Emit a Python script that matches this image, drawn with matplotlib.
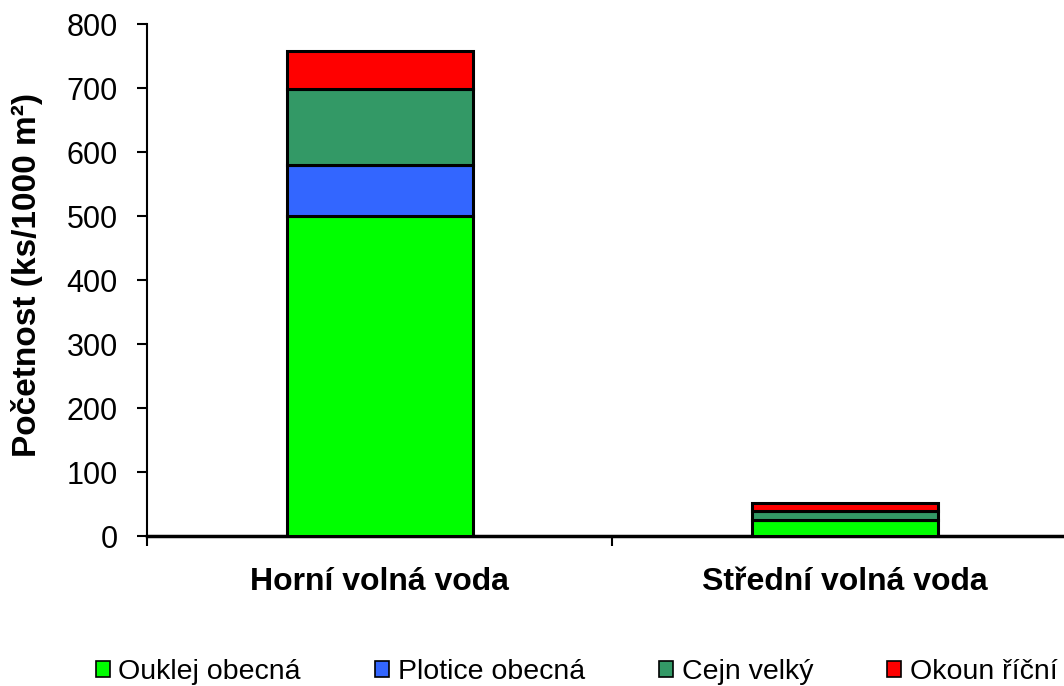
import matplotlib
matplotlib.use("Agg")
import matplotlib.pyplot as plt
from matplotlib.patches import Patch
import numpy as np

plt.rcParams['font.family'] = ['Liberation Sans', 'DejaVu Sans']

categories = ["Horní volná voda", "Střední volná voda"]
series_names = ["Ouklej obecná", "Plotice obecná", "Cejn velký", "Okoun říční"]
ouklej = [500, 25]
plotice = [80, 0]
cejn = [118, 14]
okoun = [60, 12]
colors = ["#00FF00", "#3366FF", "#339966", "#FF0000"]
yticks = [0, 100, 200, 300, 400, 500, 600, 700, 800]

fig = plt.figure(figsize=(10.64, 6.86), dpi=100)
ax = fig.add_axes([147/1064, 150/686, 930/1064, 512/686])

x = np.arange(len(categories))
bottom = np.zeros(len(categories))
handles = []
for name, vals, c in zip(series_names, [ouklej, plotice, cejn, okoun], colors):
    vals = np.array(vals, dtype=float)
    ax.bar(x, vals, width=0.40, bottom=bottom, color=c, edgecolor="black", linewidth=2.2, zorder=3)
    bottom += vals
    handles.append(Patch(facecolor=c, edgecolor="black", linewidth=1.2, label=name))

ax.set_xlim(-0.5, 1.5)
ax.set_ylim(0, 800)
ax.set_yticks(yticks)
ax.tick_params(axis='y', labelsize=22, length=7, width=1.5, direction='out', pad=14)
ax.set_xticks(x)
ax.set_xticklabels(categories, fontsize=23, fontweight='bold')
ax.tick_params(axis='x', which='major', length=0, pad=22)
ax.set_xticks([-0.5, 0.5, 1.5], minor=True)
ax.tick_params(axis='x', which='minor', length=7, width=1.5, direction='out')
ax.spines['top'].set_visible(False)
ax.spines['right'].set_visible(False)
ax.spines['left'].set_linewidth(1.5)
ax.spines['bottom'].set_linewidth(2.5)
ax.set_ylabel("Početnost (ks/1000 m²)", fontsize=24, fontweight='bold')
ax.yaxis.set_label_coords(-0.112, 0.51)

fig.legend(handles=handles, loc='center', bbox_to_anchor=(0.542, 14/686), ncol=4,
           frameon=False, fontsize=20.5, handlelength=0.5, handleheight=0.5,
           handletextpad=0.3, columnspacing=2.6, borderpad=0, borderaxespad=0)

fig.savefig("out.png", dpi=100)
